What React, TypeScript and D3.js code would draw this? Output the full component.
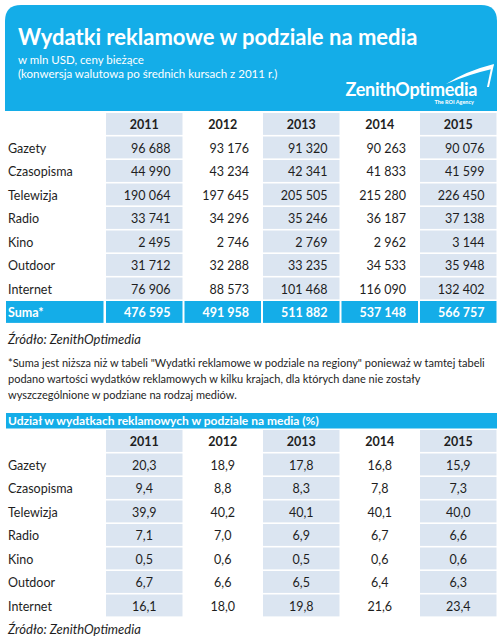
import React from "react";
import * as d3 from "d3";

const years = ["2011", "2012", "2013", "2014", "2015"];
const media = ["Gazety", "Czasopisma", "Telewizja", "Radio", "Kino", "Outdoor", "Internet"];

const spend2011 = [96688, 44990, 190064, 33741, 2495, 31712, 76906];
const spend2012 = [93176, 43234, 197645, 34296, 2746, 32288, 88573];
const spend2013 = [91320, 42341, 205505, 35246, 2769, 33235, 101468];
const spend2014 = [90263, 41833, 215280, 36187, 2962, 34533, 116090];
const spend2015 = [90076, 41599, 226450, 37138, 3144, 35948, 132402];
const totals = [476595, 491958, 511882, 537148, 566757];

const share2011 = [20.3, 9.4, 39.9, 7.1, 0.5, 6.7, 16.1];
const share2012 = [18.9, 8.8, 40.2, 7.0, 0.6, 6.6, 18.0];
const share2013 = [17.8, 8.3, 40.1, 6.9, 0.5, 6.5, 19.8];
const share2014 = [16.8, 7.8, 40.1, 6.7, 0.6, 6.4, 21.6];
const share2015 = [15.9, 7.3, 40.0, 6.6, 0.6, 6.3, 23.4];

const title = "Wydatki reklamowe w podziale na media";
const subtitle1 = "w mln USD, ceny bieżące";
const subtitle2 = "(konwersja walutowa po średnich kursach z 2011 r.)";
const sourceText = "Źródło: ZenithOptimedia";
const footnote = [
  '*Suma jest niższa niż w tabeli "Wydatki reklamowe w podziale na regiony" ponieważ w tamtej tabeli',
  "podano wartości wydatków reklamowych w kilku krajach, dla których dane nie zostały",
  "wyszczególnione w podziane na rodzaj mediów.",
];
const title2 = "Udział w wydatkach reklamowych w podziale na media (%)";
const sumLabel = "Suma*";

const spendByYear = [spend2011, spend2012, spend2013, spend2014, spend2015];
const shareByYear = [share2011, share2012, share2013, share2014, share2015];

const BLUE = "#14ade8";
const SHADE = "#dbe5f1";
const TEXT = "#1e1e1e";
const FONT = "Lato, 'Open Sans', sans-serif";

const fmtInt = (v: number) => d3.format(",")(v).replace(/,/g, " ");
const fmtPct = (v: number) => d3.format(".1f")(v).replace(".", ",");

export default function App() {
  const W = 501;
  const H = 640;
  const x = d3.scaleBand<string>().domain(years).range([105, 497.5]);
  const bw = x.bandwidth();

  const rows1 = ["header", ...media, "sum"];
  const y1 = d3.scaleBand<string>().domain(rows1).range([113, 324.5]);
  const rows2 = ["header", ...media];
  const y2 = d3.scaleBand<string>().domain(rows2).range([430, 618]);
  const rh1 = y1.bandwidth();
  const rh2 = y2.bandwidth();

  const shaded = (i: number) => i % 2 === 0;

  const r = 16;
  const hx0 = 5, hx1 = 497, hy0 = 5, hy1 = 111;
  const headerPath = `M${hx0},${hy1} L${hx0},${hy0 + r} Q${hx0},${hy0} ${hx0 + r},${hy0} L${hx1 - r},${hy0} Q${hx1},${hy0} ${hx1},${hy0 + r} L${hx1},${hy1} Z`;

  return (
    <svg
      width={W}
      height={H}
      style={{ position: "absolute", left: 0, top: 0, background: "#fff" }}
      fontFamily={FONT}
    >
      <rect x={0} y={0} width={W} height={H} fill="#fff" />
      {/* Header */}
      <path d={headerPath} fill={BLUE} />
      <text x={18} y={45} fill="#fff" fontSize={22} fontWeight={700}>
        {title}
      </text>
      <text x={18} y={64} fill="#fff" fontSize={11.5}>
        {subtitle1}
      </text>
      <text x={18} y={78} fill="#fff" fontSize={11.5}>
        {subtitle2}
      </text>
      {/* Logo */}
      <g fill="#fff">
        <text x={477} y={96} textAnchor="end" fontSize={18} fontWeight={700} letterSpacing={-0.3}>
          ZenithOptimedia
        </text>
        <text x={474} y={104} textAnchor="end" fontSize={5.5} fontWeight={700}>
          The ROI Agency
        </text>
        <path d="M446,84 Q466,71 494,64 L492,69 Q470,74 446,84 Z" />
        <path d="M494,64 L489,87 L487,87 L491,68 Z" />
      </g>

      {/* Table 1 */}
      {years.map((yr, i) => (
        <g key={"t1c" + yr}>
          {shaded(i) &&
            rows1.slice(0, -1).map((row) => (
              <rect
                key={row}
                x={(x(yr) as number) + 1}
                y={y1(row) as number}
                width={bw - 2}
                height={rh1 - 1.6}
                fill={SHADE}
              />
            ))}
          <text
            x={(x(yr) as number) + bw / 2}
            y={(y1("header") as number) + rh1 / 2}
            dy="0.35em"
            textAnchor="middle"
            fontSize={12.5}
            fontWeight={700}
            fill={TEXT}
          >
            {yr}
          </text>
          {media.map((m, j) => (
            <text
              key={m}
              x={(x(yr) as number) + bw - 13}
              y={(y1(m) as number) + rh1 / 2}
              dy="0.35em"
              textAnchor="end"
              fontSize={12.5}
              fill={TEXT}
            >
              {fmtInt(spendByYear[i][j])}
            </text>
          ))}
          <rect
            x={(x(yr) as number) + 1}
            y={y1("sum") as number}
            width={bw - 2}
            height={rh1 - 1.6}
            fill={BLUE}
          />
          <text
            x={(x(yr) as number) + bw - 13}
            y={(y1("sum") as number) + rh1 / 2}
            dy="0.35em"
            textAnchor="end"
            fontSize={12.5}
            fontWeight={700}
            fill="#fff"
          >
            {fmtInt(totals[i])}
          </text>
        </g>
      ))}
      {media.map((m) => (
        <text
          key={"l1" + m}
          x={8}
          y={(y1(m) as number) + rh1 / 2}
          dy="0.35em"
          fontSize={12.5}
          fill={TEXT}
        >
          {m}
        </text>
      ))}
      <rect x={6} y={y1("sum") as number} width={97.5} height={rh1 - 1.6} fill={BLUE} />
      <text
        x={8}
        y={(y1("sum") as number) + rh1 / 2}
        dy="0.35em"
        fontSize={12.5}
        fontWeight={700}
        fill="#fff"
      >
        {sumLabel}
      </text>

      <text x={8} y={343.5} fontSize={13} fontStyle="italic" fill={TEXT}>
        {sourceText}
      </text>
      {footnote.map((line, i) => (
        <text key={"fn" + i} x={8} y={367 + i * 16} fontSize={11} fill={TEXT}>
          {line}
        </text>
      ))}

      {/* Table 2 */}
      <rect x={6} y={413} width={491} height={15.5} fill={BLUE} />
      <text x={8} y={424.5} fontSize={12} fontWeight={700} fill="#fff">
        {title2}
      </text>
      {years.map((yr, i) => (
        <g key={"t2c" + yr}>
          {shaded(i) &&
            rows2.map((row) => (
              <rect
                key={row}
                x={(x(yr) as number) + 1}
                y={y2(row) as number}
                width={bw - 2}
                height={rh2 - 1.6}
                fill={SHADE}
              />
            ))}
          <text
            x={(x(yr) as number) + bw / 2}
            y={(y2("header") as number) + rh2 / 2}
            dy="0.35em"
            textAnchor="middle"
            fontSize={12.5}
            fontWeight={700}
            fill={TEXT}
          >
            {yr}
          </text>
          {media.map((m, j) => (
            <text
              key={m}
              x={(x(yr) as number) + bw / 2}
              y={(y2(m) as number) + rh2 / 2}
              dy="0.35em"
              textAnchor="middle"
              fontSize={12.5}
              fill={TEXT}
            >
              {fmtPct(shareByYear[i][j])}
            </text>
          ))}
        </g>
      ))}
      {media.map((m) => (
        <text
          key={"l2" + m}
          x={8}
          y={(y2(m) as number) + rh2 / 2}
          dy="0.35em"
          fontSize={12.5}
          fill={TEXT}
        >
          {m}
        </text>
      ))}
      <text x={8} y={634} fontSize={13} fontStyle="italic" fill={TEXT}>
        {sourceText}
      </text>
    </svg>
  );
}
